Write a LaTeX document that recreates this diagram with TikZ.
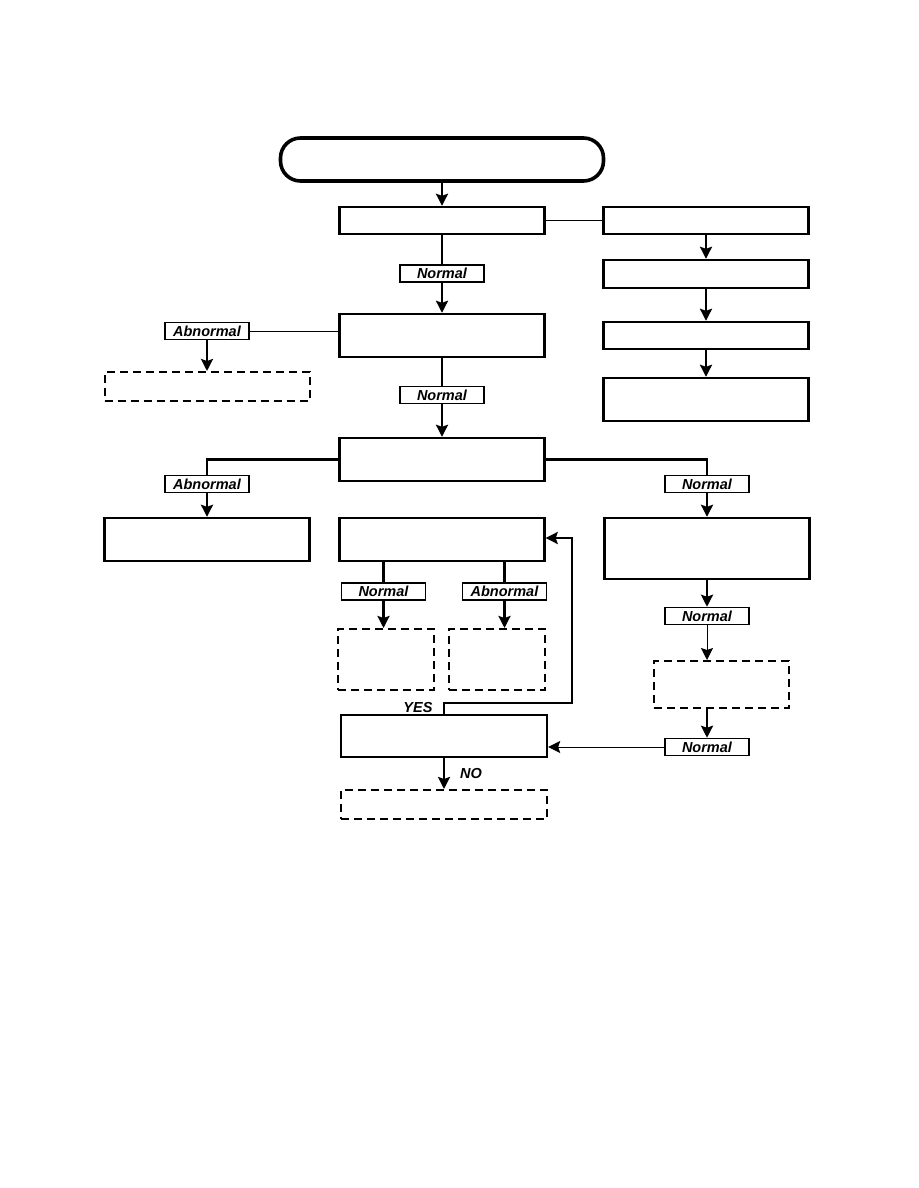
\documentclass[tikz,border=0pt]{standalone}
\usepackage{fontspec}
\setmainfont{Liberation Sans}
\usetikzlibrary{arrows.meta,positioning,calc}

\tikzset{
  termbox/.style={draw,line width=3.6pt,rounded corners=20pt,minimum width=323pt,minimum height=43pt,inner sep=0pt},
  procbox/.style={draw,line width=2.4pt,minimum width=205pt,inner sep=0pt},
  dashbox/.style={draw,dash pattern=on 8pt off 5pt,line width=2pt,inner sep=0pt},
  tagbox/.style={draw,fill=white,line width=1.5pt,minimum width=84pt,minimum height=17pt,inner sep=0pt,font=\fontsize{14.5}{16}\selectfont\bfseries\itshape},
  tagtext/.style={inner sep=0pt,font=\fontsize{14.5}{16}\selectfont\bfseries\itshape},
  flow/.style={-{Stealth[length=12pt,width=12pt,inset=2pt]},line width=2.4pt},
  thinflow/.style={-{Stealth[length=12pt,width=12pt,inset=2pt]},line width=1pt},
  link/.style={line width=2.4pt},
  thinlink/.style={line width=1pt}
}

\begin{document}
\begin{tikzpicture}[x=1pt,y=-1pt]
\useasboundingbox (0,0) rectangle (918,1188);
% main column
\node[termbox] (start) at (442,159.5) {};
\node[procbox,minimum height=27pt] (chkA) at (442,220.5) {};
\node[tagbox] (normA) at (442,273.5) {Normal};
\node[procbox,minimum height=43pt] (chkB) at (442,335.5) {};
\node[tagbox] (normB) at (442,395) {Normal};
\node[procbox,minimum height=43pt] (chkC) at (442,459.5) {};
\node[procbox,minimum height=43pt] (chkG) at (442,539.5) {};
\node[tagbox] (normG) at (383.5,591.5) {Normal};
\node[tagbox] (abnG) at (504.5,591.5) {Abnormal};
\node[dashbox,minimum width=96pt,minimum height=61pt] (resGn) at (386,659.5) {};
\node[dashbox,minimum width=96pt,minimum height=61pt] (resGa) at (497,659.5) {};
\node[procbox,minimum width=206pt,minimum height=42pt] (chkH) at (444,736) {};
\node[dashbox,minimum width=206pt,minimum height=29pt] (resH) at (444,804.5) {};
\node[tagtext] (yes) at (418,707) {YES};
\node[tagtext] (no) at (471,773) {NO};
% right column
\node[procbox,minimum height=27pt] (stepA) at (706,220.5) {};
\node[procbox,minimum height=28pt] (stepB) at (706,274) {};
\node[procbox,minimum height=27pt] (stepC) at (706,335.5) {};
\node[procbox,minimum height=43pt] (stepD) at (706,399.5) {};
\node[tagbox] (normC) at (707,484) {Normal};
\node[procbox,minimum height=61pt] (chkF) at (707,548.5) {};
\node[tagbox] (normF) at (707,616) {Normal};
\node[dashbox,minimum width=135pt,minimum height=47pt] (resF) at (721.5,684.5) {};
\node[tagbox] (normR) at (707,747) {Normal};
% left column
\node[tagbox] (abnB) at (207,331) {Abnormal};
\node[dashbox,minimum width=205pt,minimum height=29pt] (resB) at (207,386.5) {};
\node[tagbox] (abnC) at (207,484) {Abnormal};
\node[procbox,minimum height=43pt] (resC) at (207,539.5) {};

% connectors
\draw[flow] (start) -- (chkA);
\draw[thinlink] (chkA) -- (stepA);
\draw[flow] (stepA) -- (stepB);
\draw[flow] (stepB) -- (stepC);
\draw[flow] (stepC) -- (stepD);
\draw[link] (chkA) -- (normA);
\draw[flow] (normA) -- (chkB);
\draw[thinlink] (chkB.west |- abnB) -- (abnB);
\draw[flow] (abnB) -- (resB);
\draw[link] (chkB) -- (normB);
\draw[flow] (normB) -- (chkC);
\draw[link] (chkC.west) -| (abnC);
\draw[flow] (abnC) -- (resC);
\draw[link] (chkC.east) -| (normC);
\draw[flow] (normC) -- (chkF);
\draw[flow] (chkF) -- (normF);
\draw[thinflow] (normF) -- (normF |- resF.north);
\draw[flow] (resF.south -| normR) -- (normR);
\draw[thinflow] (normR) -- (normR -| chkH.east);
\draw[link] (chkG.south -| normG) -- (normG);
\draw[flow] (normG) -- (normG |- resGn.north);
\draw[link] (chkG.south -| abnG) -- (abnG);
\draw[flow] (abnG) -- (abnG |- resGa.north);
\coordinate (loop) at (572,703);
\draw[flow] (chkH.north) |- (loop) |- ([yshift=1.5pt]chkG.east);
\draw[flow] (chkH) -- (resH);
\end{tikzpicture}
\end{document}
